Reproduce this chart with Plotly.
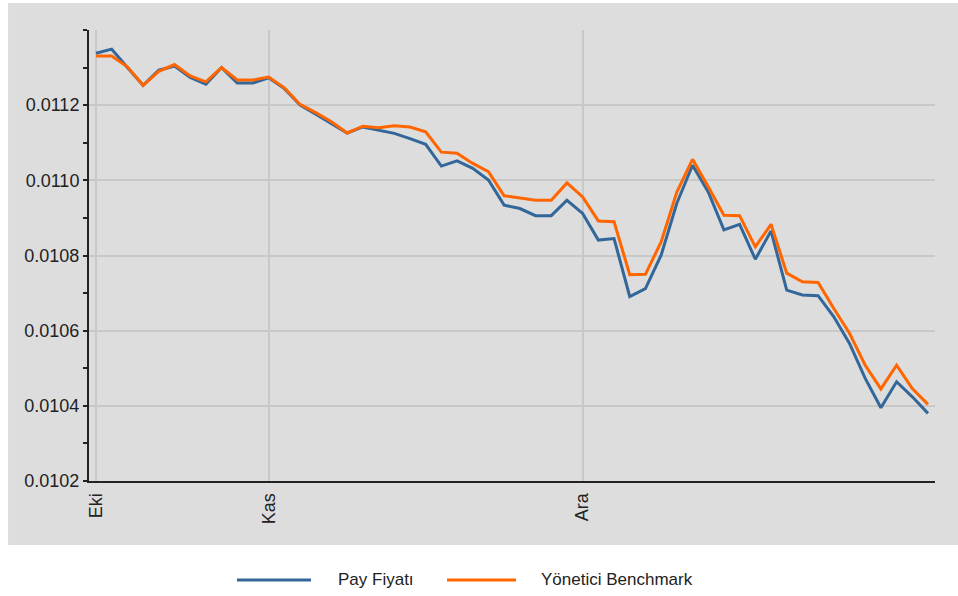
import plotly.graph_objects as go

# trading-day index (0 = first point of the period)
day_index = list(range(54))

# Pay Fiyatı (fund price)
pay_fiyati = [
    0.011338, 0.011349, 0.011300, 0.011253, 0.011293, 0.011304, 0.011274, 0.011256,
    0.011300, 0.011259, 0.011259, 0.011273, 0.011244, 0.011200, 0.011176, 0.011151,
    0.011126, 0.011142, 0.011133, 0.011125, 0.011111, 0.011096, 0.011038, 0.011052,
    0.011032, 0.011001, 0.010934, 0.010925, 0.010906, 0.010906, 0.010947, 0.010912,
    0.010841, 0.010845, 0.010691, 0.010712, 0.010801, 0.010939, 0.011040, 0.010969,
    0.010868, 0.010883, 0.010790, 0.010865, 0.010708, 0.010695, 0.010693, 0.010637,
    0.010566, 0.010473, 0.010395, 0.010464, 0.010424, 0.010380,
]

# Yönetici Benchmark
benchmark = [
    0.011331, 0.011331, 0.011302, 0.011253, 0.011290, 0.011308, 0.011278, 0.011262,
    0.011300, 0.011267, 0.011267, 0.011275, 0.011246, 0.011202, 0.011180, 0.011156,
    0.011126, 0.011144, 0.011140, 0.011145, 0.011142, 0.011129, 0.011075, 0.011072,
    0.011045, 0.011023, 0.010959, 0.010954, 0.010947, 0.010947, 0.010993, 0.010956,
    0.010892, 0.010890, 0.010749, 0.010750, 0.010836, 0.010969, 0.011056, 0.010983,
    0.010907, 0.010906, 0.010823, 0.010883, 0.010753, 0.010730, 0.010728, 0.010659,
    0.010593, 0.010508, 0.010445, 0.010508, 0.010446, 0.010404,
]

series_names = ["Pay Fiyatı", "Yönetici Benchmark"]
series_colors = ["#336699", "#FF6600"]

# month labels at the first trading day of each month
month_tick_index = [0, 11, 31]
month_tick_text = ["Eki", "Kas", "Ara"]

y_tick_vals = [0.0102, 0.0104, 0.0106, 0.0108, 0.0110, 0.0112]

FONT = "Liberation Sans, Arial, sans-serif"
TEXT_COLOR = "#222222"

fig = go.Figure()
for name, color, values in zip(series_names, series_colors, [pay_fiyati, benchmark]):
    fig.add_trace(go.Scatter(
        x=day_index, y=values, mode="lines", name=name,
        line=dict(color=color, width=3),
    ))

# grey outer panel behind the plot area
fig.add_shape(
    type="rect", xref="paper", yref="paper",
    x0=-0.0957, x1=1.045, y0=-0.1419, y1=1.0599,
    fillcolor="#DDDDDD", line=dict(width=0), layer="below",
)

# legend below the panel (symbol line + label), placed in paper coordinates
legend_y = -0.2195
legend_items = [
    (0.1749, 0.2624, 0.2920),   # line start, line end, text start
    (0.4232, 0.5047, 0.5319),
]
for (lx0, lx1, tx), name, color in zip(legend_items, series_names, series_colors):
    fig.add_shape(
        type="line", xref="paper", yref="paper",
        x0=lx0, x1=lx1, y0=legend_y, y1=legend_y,
        line=dict(color=color, width=3),
    )
    fig.add_annotation(
        xref="paper", yref="paper", x=tx, y=legend_y,
        xanchor="left", yanchor="middle", showarrow=False,
        text=name, font=dict(family=FONT, size=17, color=TEXT_COLOR),
    )

fig.update_layout(
    width=958, height=596,
    margin=dict(l=89, r=23, t=30, b=115),
    paper_bgcolor="white",
    plot_bgcolor="#EEEEEE",
    font=dict(family=FONT, size=18, color=TEXT_COLOR),
    showlegend=False,
)

fig.update_xaxes(
    range=[-0.446, 53.446],
    tickmode="array", tickvals=month_tick_index, ticktext=month_tick_text,
    tickangle=-90, ticks="", ticklen=0, ticklabelstandoff=3,
    showgrid=True, gridcolor="#C8C8C8", gridwidth=2,
    showline=True, linecolor=TEXT_COLOR, linewidth=2,
    zeroline=False,
    tickfont=dict(family=FONT, size=18, color=TEXT_COLOR),
)

fig.update_yaxes(
    range=[0.0102, 0.0114],
    tickmode="array", tickvals=y_tick_vals, tickformat=".4f",
    ticks="outside", ticklen=4, tickcolor=TEXT_COLOR, tickwidth=1.5,
    minor=dict(dtick=0.0001, tick0=0.0102, ticks="outside", ticklen=4,
               tickcolor=TEXT_COLOR, tickwidth=1.5, showgrid=False),
    showgrid=True, gridcolor="#C8C8C8", gridwidth=2,
    showline=True, linecolor=TEXT_COLOR, linewidth=2,
    zeroline=False,
    tickfont=dict(family=FONT, size=18, color=TEXT_COLOR),
)

fig.write_html(
    "out.html",
    config={"displayModeBar": False},
    post_script="document.body.style.margin='0';",
)
